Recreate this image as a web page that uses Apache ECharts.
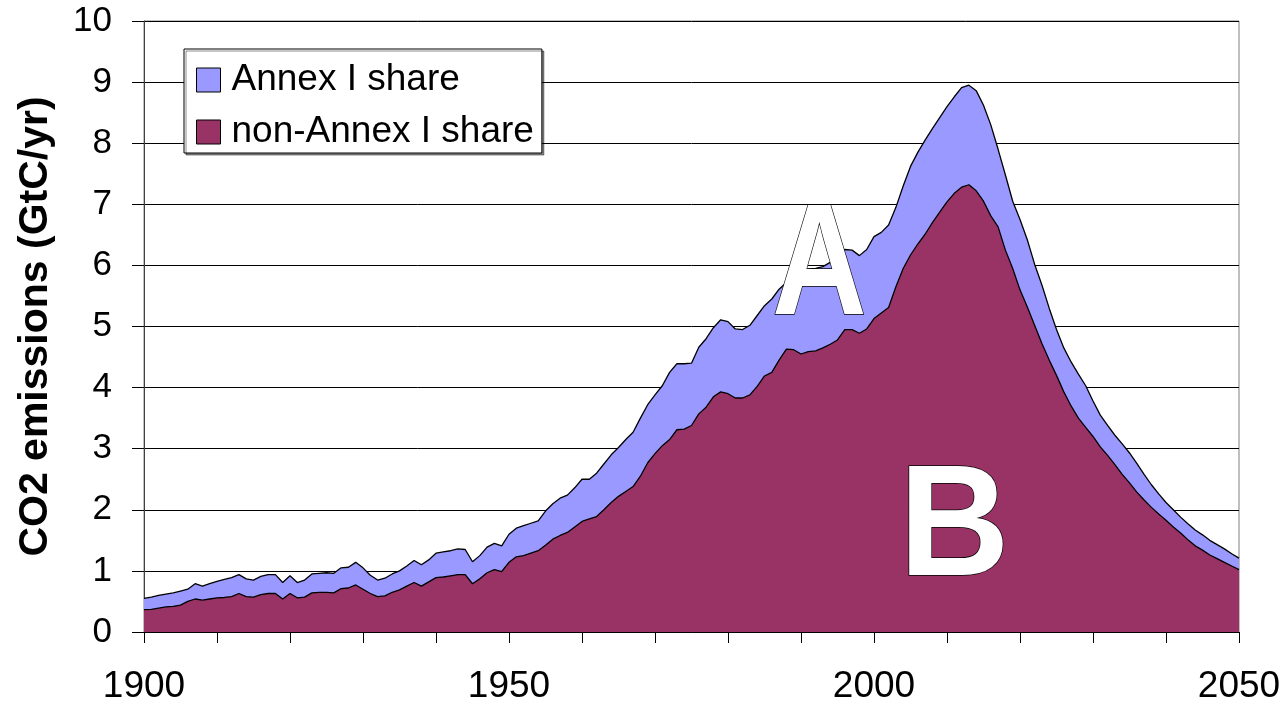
<!DOCTYPE html>
<html>
<head>
<meta charset="utf-8">
<script src="https://cdn.jsdelivr.net/npm/echarts@6/dist/echarts.min.js"></script>
<style>
html,body{margin:0;padding:0;background:#fff;}
#chart{width:1287px;height:708px;}
</style>
</head>
<body>
<div id="chart"></div>
<script>
// Years (x values)
const years = [];
for (let y = 1900; y <= 2050; y++) years.push(y);

// Total emissions (top of the Annex I share band), GtC/yr
const totalEmissions = [
  0.55,0.57,0.60,0.62,0.64,0.67,0.70,0.79,0.75,0.79, // 1900-1909
  0.83,0.86,0.89,0.94,0.87,0.85,0.91,0.94,0.94,0.81, // 1910-1919
  0.92,0.81,0.85,0.95,0.96,0.97,0.96,1.05,1.06,1.14, // 1920-1929
  1.05,0.93,0.85,0.88,0.95,1.00,1.08,1.17,1.10,1.18, // 1930-1939
  1.29,1.31,1.33,1.36,1.35,1.15,1.25,1.39,1.45,1.41, // 1940-1949
  1.60,1.70,1.74,1.78,1.82,1.98,2.10,2.19,2.24,2.36, // 1950-1959
  2.50,2.50,2.60,2.75,2.90,3.02,3.15,3.27,3.50,3.72, // 1960-1969
  3.88,4.03,4.25,4.39,4.39,4.40,4.66,4.80,4.98,5.11, // 1970-1979
  5.08,4.96,4.95,5.02,5.18,5.34,5.45,5.61,5.72,5.83, // 1980-1989
  5.90,5.94,5.95,5.98,6.05,6.15,6.26,6.25,6.16,6.26, // 1990-1999
  6.47,6.54,6.66,6.95,7.30,7.62,7.85,8.05,8.24,8.42, // 2000-2009
  8.60,8.76,8.91,8.95,8.86,8.62,8.30,7.90,7.48,7.05, // 2010-2019
  6.75,6.42,6.02,5.68,5.30,4.95,4.65,4.42,4.22,4.03, // 2020-2029
  3.78,3.55,3.38,3.22,3.08,2.93,2.76,2.58,2.41,2.26, // 2030-2039
  2.12,2.00,1.88,1.77,1.67,1.59,1.50,1.43,1.36,1.28, // 2040-2049
  1.21                                               // 2050
];

// non-Annex I share (lower band), GtC/yr
const nonAnnexShare = [
  0.365,0.37,0.39,0.41,0.42,0.44,0.50,0.54,0.52,0.54, // 1900-1909
  0.56,0.565,0.58,0.63,0.58,0.57,0.61,0.63,0.63,0.54, // 1910-1919
  0.63,0.56,0.57,0.64,0.65,0.65,0.64,0.71,0.72,0.77,  // 1920-1929
  0.70,0.63,0.58,0.59,0.65,0.69,0.75,0.81,0.75,0.82,  // 1930-1939
  0.89,0.90,0.92,0.94,0.94,0.79,0.87,0.97,1.02,0.99,  // 1940-1949
  1.14,1.23,1.25,1.29,1.33,1.42,1.52,1.58,1.63,1.72,  // 1950-1959
  1.81,1.85,1.89,2.00,2.12,2.22,2.30,2.38,2.55,2.77,  // 1960-1969
  2.92,3.05,3.15,3.31,3.32,3.38,3.57,3.68,3.85,3.93,  // 1970-1979
  3.90,3.83,3.83,3.88,4.02,4.19,4.25,4.45,4.63,4.62,  // 1980-1989
  4.55,4.59,4.60,4.65,4.71,4.78,4.95,4.95,4.89,4.96,  // 1990-1999
  5.13,5.22,5.31,5.65,5.95,6.17,6.35,6.51,6.70,6.87,  // 2000-2009
  7.04,7.18,7.28,7.32,7.22,7.05,6.81,6.63,6.25,5.95,  // 2010-2019
  5.60,5.32,5.02,4.72,4.45,4.20,3.93,3.70,3.50,3.35,  // 2020-2029
  3.20,3.03,2.89,2.74,2.58,2.44,2.29,2.16,2.04,1.93,  // 2030-2039
  1.83,1.72,1.62,1.51,1.41,1.34,1.26,1.20,1.14,1.08,  // 2040-2049
  1.02                                               // 2050
];

const seriesNames = ['Annex I share', 'non-Annex I share'];
const yTicks = [0,1,2,3,4,5,6,7,8,9,10];
const xLabelYears = [1900, 1950, 2000, 2050];
// Big annotation letters, anchored in data coordinates [year, value]
const letterA = { text: 'A', at: [1992.5, 5.91] };
const letterB = { text: 'B', at: [2011.0, 1.65] };

const FONT = '"Liberation Sans", Arial, sans-serif';

const chart = echarts.init(document.getElementById('chart'), null, { renderer: 'canvas' });

const option = {
  animation: false,
  backgroundColor: '#fff',
  grid: {
    left: 144, top: 21, right: 48, bottom: 76,
    show: true, borderColor: '#808080', borderWidth: 1, backgroundColor: 'transparent'
  },
  legend: {
    orient: 'vertical',
    left: 184, top: 49,
    data: seriesNames,
    icon: 'rect',
    itemWidth: 24, itemHeight: 24,
    itemGap: 12,
    backgroundColor: '#fff',
    borderColor: '#000', borderWidth: 1,
    padding: [11, 8, 1, 12],
    shadowColor: 'rgba(0,0,0,0.45)', shadowOffsetX: 2, shadowOffsetY: 2, shadowBlur: 0,
    itemStyle: { borderColor: '#000', borderWidth: 1 },
    textStyle: { fontFamily: FONT, fontSize: 37, color: '#000', lineHeight: 40, padding: [0, 0, 0, 6] }
  },
  xAxis: {
    type: 'value',
    min: 1900, max: 2050, interval: 10,
    axisLine: { show: true, lineStyle: { color: '#000', width: 1 } },
    axisTick: { show: true, length: 11, lineStyle: { color: '#000' } },
    splitLine: { show: false },
    axisLabel: {
      margin: 36,
      fontFamily: FONT, fontSize: 37, color: '#000',
      showMinLabel: true, showMaxLabel: true,
      formatter: v => (xLabelYears.indexOf(v) >= 0 ? String(v) : '')
    }
  },
  yAxis: {
    type: 'value',
    min: yTicks[0], max: yTicks[yTicks.length - 1], interval: 1,
    name: 'CO2 emissions (GtC/yr)',
    nameLocation: 'middle',
    nameGap: 88,
    nameTextStyle: { fontFamily: FONT, fontSize: 41, fontWeight: 'bold', color: '#000' },
    axisLine: { show: true, lineStyle: { color: '#404040', width: 1 } },
    axisTick: { show: true, length: 12, lineStyle: { color: '#000' } },
    splitLine: { show: true, lineStyle: { color: '#000', width: 1 } },
    axisLabel: { margin: 32, fontFamily: FONT, fontSize: 35, color: '#000' }
  },
  series: [
    {
      name: seriesNames[0],
      type: 'line',
      data: years.map((y, i) => [y, totalEmissions[i]]),
      showSymbol: false, symbol: 'none',
      color: '#9999FF',
      lineStyle: { color: '#000', width: 1.3 },
      areaStyle: { color: '#9999FF', opacity: 1, origin: 'start' },
      itemStyle: { color: '#9999FF', borderColor: '#000', borderWidth: 1 },
      z: 2
    },
    {
      name: seriesNames[1],
      type: 'line',
      data: years.map((y, i) => [y, nonAnnexShare[i]]),
      showSymbol: false, symbol: 'none',
      color: '#993366',
      lineStyle: { color: '#000', width: 1.3 },
      areaStyle: { color: '#993366', opacity: 1, origin: 'start' },
      itemStyle: { color: '#993366', borderColor: '#000', borderWidth: 1 },
      z: 3
    }
  ]
};

chart.setOption(option);

function letterGraphic(def, scaleX) {
  const p = chart.convertToPixel({ gridIndex: 0 }, def.at);
  return {
    type: 'text',
    x: p[0], y: p[1],
    scaleX: scaleX,
    z: 100,
    silent: true,
    style: {
      text: def.text,
      font: 'bold 158px ' + FONT,
      fill: '#fff',
      stroke: '#000',
      lineWidth: 1.5,
      align: 'center',
      verticalAlign: 'middle'
    }
  };
}

chart.setOption({
  graphic: [letterGraphic(letterA, 0.83), letterGraphic(letterB, 0.97)]
});
</script>
</body>
</html>
